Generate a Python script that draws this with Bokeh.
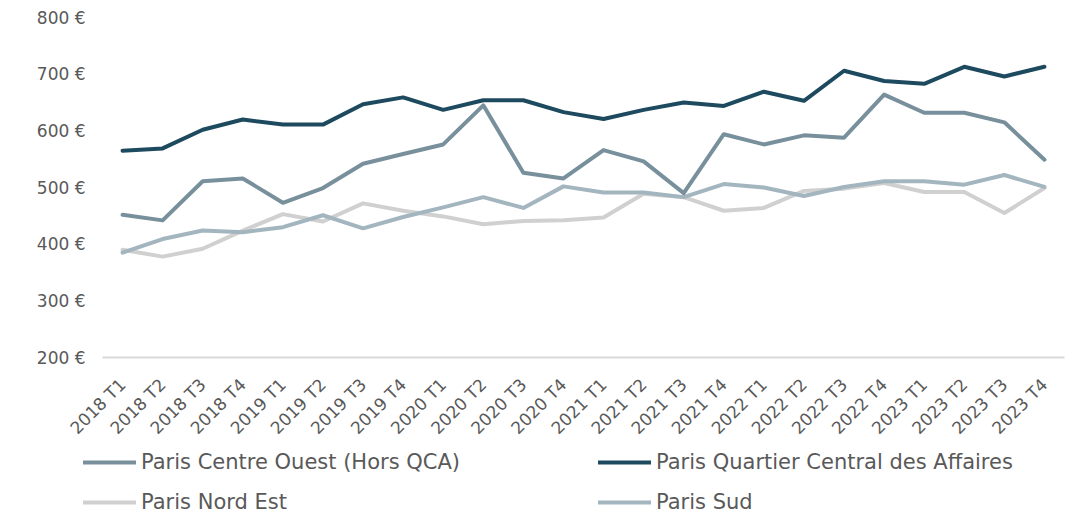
from bokeh.plotting import figure
from bokeh.layouts import column
from bokeh.models import (FactorRange, Range1d, FixedTicker, PrintfTickFormatter,
                          Legend, LegendItem)
from bokeh.embed import file_html
from bokeh.resources import INLINE
import math

quarters = ["2018 T1", "2018 T2", "2018 T3", "2018 T4",
            "2019 T1", "2019 T2", "2019 T3", "2019 T4",
            "2020 T1", "2020 T2", "2020 T3", "2020 T4",
            "2021 T1", "2021 T2", "2021 T3", "2021 T4",
            "2022 T1", "2022 T2", "2022 T3", "2022 T4",
            "2023 T1", "2023 T2", "2023 T3", "2023 T4"]

centre_ouest = [452, 442, 511, 516, 473, 499, 542, 559, 576, 645, 526, 516,
                566, 546, 490, 594, 576, 592, 588, 664, 632, 632, 615, 549]
qca = [565, 569, 602, 620, 611, 611, 647, 659, 637, 654, 654, 633,
       621, 637, 650, 644, 669, 653, 706, 688, 683, 713, 696, 713]
nord_est = [390, 378, 392, 424, 453, 440, 472, 459, 449, 435, 441, 442,
            447, 489, 483, 459, 464, 494, 498, 508, 492, 492, 455, 499]
sud = [385, 409, 424, 421, 430, 451, 428, 448, 465, 483, 464, 502,
       491, 491, 483, 506, 500, 485, 501, 511, 511, 505, 522, 501]

series_names = ["Paris Centre Ouest (Hors QCA)", "Paris Quartier Central des Affaires",
                "Paris Nord Est", "Paris Sud"]
y_ticks = [200, 300, 400, 500, 600, 700, 800]

COLORS = {"co": "#78909c", "qca": "#1d4a5f", "ne": "#d0d0d0", "sud": "#a3b5bf"}
FONT = "DejaVu Sans"
TXT = "#595959"
W = 1074

p = figure(width=W, height=449, x_range=FactorRange(factors=quarters),
           y_range=Range1d(200, 800), output_backend="svg", toolbar_location=None,
           min_border_left=102, min_border_right=10, min_border_top=17,
           min_border_bottom=92)
p.frame_align = False
p.outline_line_color = None
p.xgrid.visible = False
p.ygrid.visible = False

line_kw = dict(line_width=4, line_cap="round", line_join="round")
p.line(quarters, nord_est, color=COLORS["ne"], **line_kw)
p.line(quarters, sud, color=COLORS["sud"], **line_kw)
p.line(quarters, centre_ouest, color=COLORS["co"], **line_kw)
p.line(quarters, qca, color=COLORS["qca"], **line_kw)

# y axis
p.yaxis.ticker = FixedTicker(ticks=y_ticks)
p.yaxis.formatter = PrintfTickFormatter(format="%d €")
p.yaxis.axis_line_color = None
p.yaxis.major_tick_line_color = None
p.yaxis.minor_tick_line_color = None
p.yaxis.major_tick_out = 0
p.yaxis.major_tick_in = 0
p.yaxis.major_label_standoff = 17
p.yaxis.major_label_text_font = FONT
p.yaxis.major_label_text_font_size = "17px"
p.yaxis.major_label_text_color = TXT

# x axis
p.xaxis.axis_line_color = "#d9d9d9"
p.xaxis.axis_line_width = 2
p.xaxis.major_tick_line_color = None
p.xaxis.minor_tick_line_color = None
p.xaxis.major_tick_out = 0
p.xaxis.major_tick_in = 0
p.xaxis.major_label_orientation = math.pi / 4
p.xaxis.major_label_standoff = 24
p.xaxis.major_label_text_font = FONT
p.xaxis.major_label_text_font_size = "17px"
p.xaxis.major_label_text_color = TXT

# legend strip (its lines lie outside its visible y range; only the legend shows)
pl = figure(width=W, height=64, x_range=FactorRange(factors=quarters), y_range=Range1d(0, 1),
            output_backend="svg", toolbar_location=None,
            x_axis_location=None, y_axis_location=None,
            min_border_left=0, min_border_right=0, min_border_top=0, min_border_bottom=0)
pl.frame_align = False
pl.outline_line_color = None
pl.xgrid.visible = False
pl.ygrid.visible = False
l_co = pl.line(quarters, centre_ouest, color=COLORS["co"], **line_kw)
l_qca = pl.line(quarters, qca, color=COLORS["qca"], **line_kw)
l_ne = pl.line(quarters, nord_est, color=COLORS["ne"], **line_kw)
l_sud = pl.line(quarters, sud, color=COLORS["sud"], **line_kw)

legend = Legend(items=[LegendItem(label=series_names[0], renderers=[l_co]),
                       LegendItem(label=series_names[1], renderers=[l_qca]),
                       LegendItem(label=series_names[2], renderers=[l_ne]),
                       LegendItem(label=series_names[3], renderers=[l_sud])],
                orientation="horizontal", ncols=2, location=(83, -2),
                border_line_color=None, background_fill_alpha=0,
                padding=0, margin=0, spacing=14,
                glyph_width=53, glyph_height=26, label_height=26, label_width=443,
                label_standoff=5, label_text_font=FONT,
                label_text_font_size="21px", label_text_color=TXT)
pl.add_layout(legend, "center")

open("out.html", "w").write(file_html(column(p, pl, spacing=0), INLINE))
